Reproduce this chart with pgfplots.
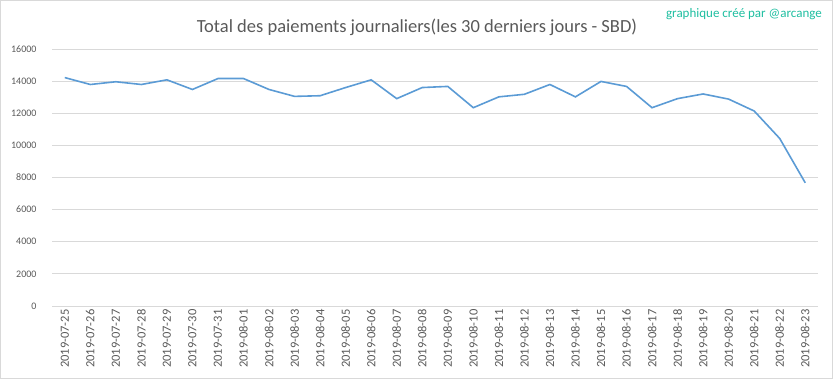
\documentclass[border=0pt]{standalone}
\usepackage{fontspec}
\setmainfont{Carlito}
\usepackage{pgfplots}
\pgfplotsset{compat=1.18}
\definecolor{linblue}{RGB}{91,155,213}
\definecolor{gridgray}{RGB}{217,217,217}
\definecolor{txtgray}{RGB}{89,89,89}
\definecolor{wmark}{RGB}{30,190,160}
\begin{document}
\begin{tikzpicture}[x=1pt,y=1pt]
\draw[gridgray, line width=0.8pt] (0.4,0.4) rectangle (832.6,378.6);
\useasboundingbox (0,0) rectangle (833,379);
\node[anchor=base, text=txtgray, font=\fontsize{18.5}{20}\selectfont] at (417,346) {Total des paiements journaliers(les 30 derniers jours - SBD)};
\node[anchor=base east, text=wmark, font=\fontsize{13}{14}\selectfont, inner sep=0pt] at (822,361) {graphique créé par @arcange};
\begin{axis}[
  at={(52pt,73pt)}, anchor=south west,
  scale only axis, width=766pt, height=257pt,
  xmin=-0.5, xmax=29.5, ymin=0, ymax=16000,
  ytick={0,2000,...,16000},
  xtick={0,...,29},
  xticklabels={2019-07-25,2019-07-26,2019-07-27,2019-07-28,2019-07-29,2019-07-30,2019-07-31,2019-08-01,2019-08-02,2019-08-03,2019-08-04,2019-08-05,2019-08-06,2019-08-07,2019-08-08,2019-08-09,2019-08-10,2019-08-11,2019-08-12,2019-08-13,2019-08-14,2019-08-15,2019-08-16,2019-08-17,2019-08-18,2019-08-19,2019-08-20,2019-08-21,2019-08-22,2019-08-23},
  scaled y ticks=false,
  /pgf/number format/assume math mode=true,
  yticklabel={\pgfmathprintnumber[fixed,1000 sep={}]{\tick}},
  yticklabel style={font=\fontsize{10}{12}\selectfont, text=txtgray, anchor=east, xshift=-12pt},
  xticklabel style={font=\fontsize{12.5}{14}\selectfont, text=txtgray, rotate=90, anchor=east},
  major tick length=0pt,
  ymajorgrids, grid style={gridgray, line width=0.8pt},
  axis x line*=bottom, axis y line*=left,
  x axis line style={draw=gridgray, line width=0.8pt, -},
  y axis line style={draw=none},
  clip=false,
]
\addplot[linblue, line width=1.6pt, mark=none] coordinates {
(0,14220) (1,13790) (2,13960) (3,13790) (4,14080) (5,13480) (6,14160) (7,14160) (8,13480) (9,13050)
(10,13090) (11,13600) (12,14080) (13,12910) (14,13600) (15,13670) (16,12345) (17,13020) (18,13180) (19,13790)
(20,13020) (21,13980) (22,13670) (23,12345) (24,12910) (25,13200) (26,12880) (27,12140) (28,10430) (29,7670)
};
\end{axis}
\end{tikzpicture}
\end{document}
